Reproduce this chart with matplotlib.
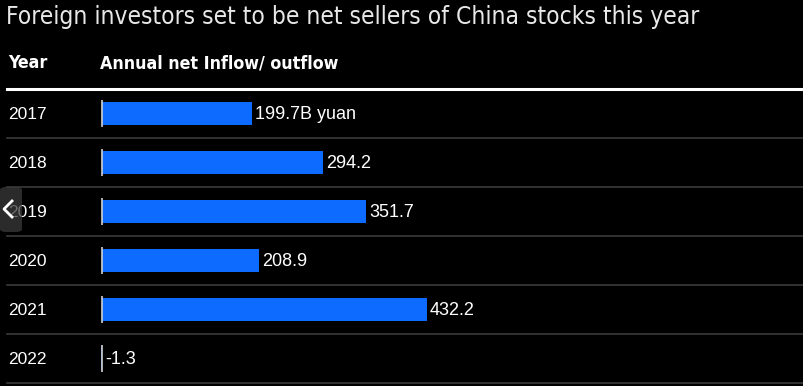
import matplotlib.pyplot as plt
from matplotlib.patches import FancyBboxPatch
from matplotlib.lines import Line2D

# data (billion yuan)
years = ["2017", "2018", "2019", "2020", "2021", "2022"]
flows = [199.7, 294.2, 351.7, 208.9, 432.2, -1.3]
value_labels = ["199.7B yuan", "294.2", "351.7", "208.9", "432.2", "-1.3"]

subtitle = "Foreign investors set to be net sellers of China stocks this year"
col_year = "Year"
col_value = "Annual net Inflow/ outflow"

W, H = 804, 386
px_per_unit = 0.751
zero_px = 102

fig = plt.figure(figsize=(W / 100, H / 100), dpi=100)
fig.patch.set_facecolor("black")

# axes spanning full width, rows between y=89 and y=383 px
ax = fig.add_axes([0, (H - 383) / H, 1, 294 / H])
ax.set_facecolor("black")
ax.set_xlim(-zero_px / px_per_unit, (W - zero_px) / px_per_unit)
ax.set_ylim(len(years) - 0.5, -0.5)
ax.axis("off")

ypos = list(range(len(years)))
ax.barh(ypos, flows, height=0.47, color="#0d6bff", zorder=2)
ax.vlines([0] * len(years), [y - 0.28 for y in ypos], [y + 0.28 for y in ypos],
          color="#d0d0d0", lw=1.2, zorder=3)

for y, v, lab, yr in zip(ypos, flows, value_labels, years):
    ax.text(max(v, 0) + 4, y + 0.03, lab, color="white", fontsize=13,
            family="Liberation Sans", va="center", ha="left")
    ax.text(8 / W, y + 0.03, yr, transform=ax.get_yaxis_transform(), color="white",
            fontsize=12.5, family="Liberation Sans", va="center", ha="left")
    # row separator
    ax.plot([7 / W, 1], [y + 0.5, y + 0.5], transform=ax.get_yaxis_transform(),
            color="#3a3a3a", lw=1.2, clip_on=False)

# header rule
fig.add_artist(Line2D([7 / W, 1], [(H - 89) / H] * 2, color="white", lw=2.2))

# headers
fig.text(8 / W, (H - 63) / H, col_year, color="white", fontsize=12.8,
         family="DejaVu Sans", stretch="condensed", weight="bold", va="center")
fig.text(100 / W, (H - 63) / H, col_value, color="white", fontsize=12.8,
         family="DejaVu Sans", stretch="condensed", weight="bold", va="center")

# subtitle
fig.text(6 / W, (H - 17) / H, subtitle, color="#e8e8e8", fontsize=17.6,
         family="DejaVu Sans", stretch="condensed", va="center")

# page-nav tab overlay on the left
tab = FancyBboxPatch((0, (H - 232) / H), 22 / W, 45 / H,
                     boxstyle="round,pad=0,rounding_size=0.008",
                     transform=fig.transFigure, facecolor="#3a3a3a",
                     edgecolor="none", alpha=0.75, zorder=5)
fig.add_artist(tab)
fig.add_artist(Line2D([12 / W, 4 / W, 12 / W],
                      [(H - 201) / H, (H - 209) / H, (H - 217) / H],
                      color="white", lw=2, zorder=6))

fig.savefig("out.png", dpi=100, facecolor="black")
